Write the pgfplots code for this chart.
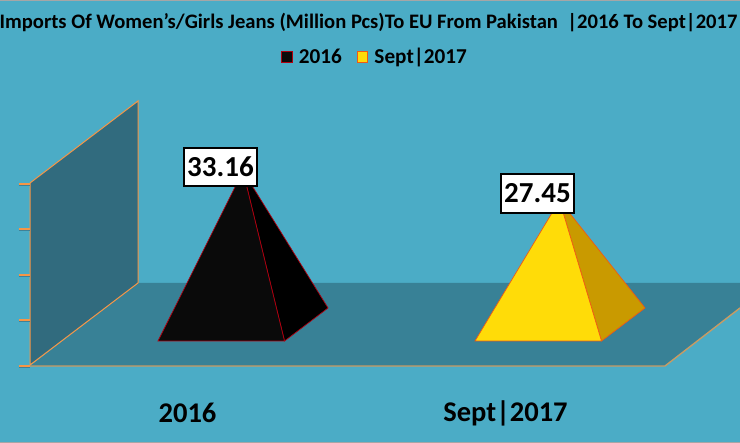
\documentclass[border=0pt]{standalone}
\usepackage{fontspec}
\setmainfont{Carlito}
\usepackage{pgfplots}
\pgfplotsset{compat=1.18}
\definecolor{bg}{HTML}{4BACC6}
\definecolor{floorc}{HTML}{388196}
\definecolor{wallc}{HTML}{316B7E}
\definecolor{axorange}{HTML}{F79646}
\definecolor{axtan}{HTML}{C89B63}
\definecolor{gfront}{HTML}{FFDC08}
\definecolor{gside}{HTML}{C99A00}
\definecolor{bfront}{HTML}{0A0A0A}
\definecolor{redl}{HTML}{B00010}
\definecolor{orl}{HTML}{F05A14}
\definecolor{tickshadow}{HTML}{3F8197}
\begin{document}
\begin{tikzpicture}
\useasboundingbox (0,0) rectangle (740pt,443pt);
\clip (0,0) rectangle (740pt,443pt);
\begin{axis}[
  at={(0,0)},anchor=south west,
  scale only axis,width=740pt,height=443pt,
  xmin=0,xmax=740,ymin=-19.92,ymax=66.60,
  axis background/.style={fill=bg},
  axis line style={draw=none},
  clip=false,
  ytick=\empty,
  xtick={187.5,505.5},
  xticklabels={2016,Sept|2017},
  major tick length=0pt,
  x tick label style={font=\fontsize{28.5}{28.5}\selectfont\bfseries,anchor=center,yshift=30pt},
  legend columns=2,
  legend style={draw=none,fill=none,at={(axis cs:375,55.47)},anchor=center,
    font=\fontsize{21.2}{21.2}\selectfont\bfseries,
    /tikz/every even column/.append style={column sep=13pt}},
  legend image code/.code={\draw[#1] (-3pt,-5pt) rectangle (7.5pt,5.5pt); \path (12pt,0pt);},
]
% floor and wall
\addplot[forget plot,fill=floorc,draw=none] coordinates {(30,-4.88)(138,11.33)(740,11.33)(740,6.45)(665,-4.88)} -- cycle;
\addplot[forget plot,fill=wallc,draw=none] coordinates {(30,30.86)(138,46.875)(138,11.33)(30,-4.69)} -- cycle;
\addplot[forget plot,axorange,line width=1pt] coordinates {(30,-4.69)(30,30.86)(138,46.875)(138,11.33)(30,-4.69)};
\addplot[forget plot,axtan,line width=1.4pt] coordinates {(30,-4.88)(665,-4.88)(740,6.45)};
% axis tick marks: shadows
\addplot[forget plot,tickshadow,line width=1pt] coordinates {(19,30.38)(30,30.38)};
\addplot[forget plot,tickshadow,line width=1pt] coordinates {(19,21.6)(30,21.6)};
\addplot[forget plot,tickshadow,line width=1pt] coordinates {(19,12.61)(30,12.61)};
\addplot[forget plot,tickshadow,line width=1pt] coordinates {(19,3.82)(30,3.82)};
\addplot[forget plot,tickshadow,line width=1pt] coordinates {(19,-5.16)(30,-5.16)};
% axis tick marks
\addplot[forget plot,axorange,line width=1.3pt] coordinates {(19,30.66)(30,30.66)};
\addplot[forget plot,axorange,line width=1.3pt] coordinates {(19,21.875)(30,21.875)};
\addplot[forget plot,axorange,line width=1.3pt] coordinates {(19,12.89)(30,12.89)};
\addplot[forget plot,axorange,line width=1.3pt] coordinates {(19,4.10)(30,4.10)};
\addplot[forget plot,axorange,line width=1.3pt] coordinates {(19,-4.88)(30,-4.88)};
% side faces
\addplot[forget plot,fill=black,draw=redl,line width=0.7pt] coordinates {(243,33.16)(284.5,0)(328,6.45)} -- cycle;
\addplot[forget plot,fill=gside,draw=orl,line width=0.7pt] coordinates {(559.5,27.45)(601.5,0)(645,6.45)} -- cycle;
% front faces
\addplot[fill=bfront,draw=redl,line width=0.7pt] coordinates {(158,0)(284.5,0)(243,33.16)} -- cycle;
\addlegendentry{2016}
\addplot[fill=gfront,draw=orl,line width=0.7pt] coordinates {(475,0)(601.5,0)(559.5,27.45)} -- cycle;
\addlegendentry{Sept|2017}
% edge lines
\addplot[forget plot,gray!70,line width=1pt] coordinates {(0,66.5)(740,66.5)};
\addplot[forget plot,gray!70,line width=1pt] coordinates {(0,-19.85)(740,-19.85)};
% data labels
\node[draw=black,fill=white,line width=2pt,inner sep=0pt,minimum width=73pt,minimum height=38.5pt,
  font=\fontsize{29}{29}\selectfont\bfseries] at (axis cs:220.5,33.95) {33.16};
\node[draw=black,fill=white,line width=2pt,inner sep=0pt,minimum width=73pt,minimum height=38.5pt,
  font=\fontsize{29}{29}\selectfont\bfseries] at (axis cs:537.5,28.8) {27.45};
% title
\node[font=\fontsize{20.6}{20.6}\selectfont\bfseries,anchor=center] at (axis cs:368.5,62.2)
  {Imports Of Women's/Girls Jeans (Million Pcs)To EU From Pakistan\ \ |2016 To Sept|2017};
\end{axis}
\end{tikzpicture}
\end{document}
